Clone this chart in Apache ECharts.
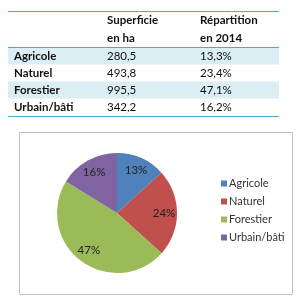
<!DOCTYPE html>
<html><head><meta charset="utf-8">
<script src="https://cdn.jsdelivr.net/npm/echarts@6/dist/echarts.min.js"></script>
<style>html,body{margin:0;padding:0;background:#fff}#c{width:300px;height:300px}</style>
</head><body><div id="c"></div>
<script>
var categories = ['Agricole', 'Naturel', 'Forestier', 'Urbain/bâti'];
var superficie = [280.5, 493.8, 995.5, 342.2];
var superficieText = ['280,5', '493,8', '995,5', '342,2'];
var repartitionText = ['13,3%', '23,4%', '47,1%', '16,2%'];
var pieLabels = ['13%', '24%', '47%', '16%'];
var headers = [['Superficie', 'en ha'], ['Répartition', 'en 2014']];
var colors = ['#4f81bd', '#c0504d', '#9bbb59', '#8064a2'];

var FONT = 'Lato, "Open Sans", sans-serif';
var chart = echarts.init(document.getElementById('c'), null, {renderer: 'canvas'});

var g = [];
g.push({type: 'rect', shape: {x: 19.5, y: 132.5, width: 273, height: 162}, style: {fill: '#fff', stroke: '#c0c0c0', lineWidth: 1}, z: -10});
var rowY = [56, 73, 90, 107];
for (var i = 0; i < categories.length; i++) {
  if (i % 2 === 0) {
    g.push({type: 'rect', shape: {x: 8, y: rowY[i] - 8.5, width: 271, height: 17}, style: {fill: '#daeef3'}, z: -5});
  }
  g.push({type: 'text', x: 14, y: rowY[i], style: {text: categories[i], font: 'bold 11.5px ' + FONT, fill: '#111', textVerticalAlign: 'middle'}});
  g.push({type: 'text', x: 107, y: rowY[i], style: {text: superficieText[i], font: '11.5px ' + FONT, fill: '#111', textVerticalAlign: 'middle'}});
  g.push({type: 'text', x: 200, y: rowY[i], style: {text: repartitionText[i], font: '11.5px ' + FONT, fill: '#111', textVerticalAlign: 'middle'}});
}
var hx = [107, 200];
for (var j = 0; j < headers.length; j++) {
  g.push({type: 'text', x: hx[j], y: 20, style: {text: headers[j][0], font: 'bold 11.5px ' + FONT, fill: '#111', textVerticalAlign: 'middle'}});
  g.push({type: 'text', x: hx[j], y: 38, style: {text: headers[j][1], font: 'bold 11.5px ' + FONT, fill: '#111', textVerticalAlign: 'middle'}});
}
[11.5, 47.5, 116.5].forEach(function (y) {
  g.push({type: 'line', shape: {x1: 8, y1: y, x2: 279, y2: y}, style: {stroke: '#4bacc6', lineWidth: 1.2}});
});

var pieData = categories.map(function (c, i) { return {name: c, value: superficie[i], itemStyle: {color: colors[i]}}; });
var labelData = categories.map(function (c, i) { return {name: c, value: superficie[i], label: {formatter: pieLabels[i]}}; });

chart.setOption({
  animation: false,
  color: colors,
  graphic: g,
  legend: {
    orient: 'vertical', left: 216, top: 173,
    itemWidth: 6, itemHeight: 6, itemGap: 7,
    icon: 'rect',
    textStyle: {fontFamily: FONT, fontSize: 11, color: '#333', padding: [0, 0, 0, -3]},
    data: categories
  },
  series: [
    {
      type: 'pie', center: [117, 213], radius: [0, 60], startAngle: 90, clockwise: true,
      label: {show: false}, labelLine: {show: false},
      itemStyle: {borderWidth: 0}, emphasis: {disabled: true},
      data: pieData
    },
    {
      type: 'pie', center: [117, 213], radius: [28, 60], startAngle: 90, clockwise: true, silent: true,
      itemStyle: {color: 'rgba(0,0,0,0)', borderWidth: 0},
      label: {show: true, position: 'inside', fontFamily: FONT, fontSize: 11.5, color: '#222'},
      labelLine: {show: false}, emphasis: {disabled: true},
      legendHoverLink: false,
      data: labelData
    }
  ]
});
</script></body></html>
